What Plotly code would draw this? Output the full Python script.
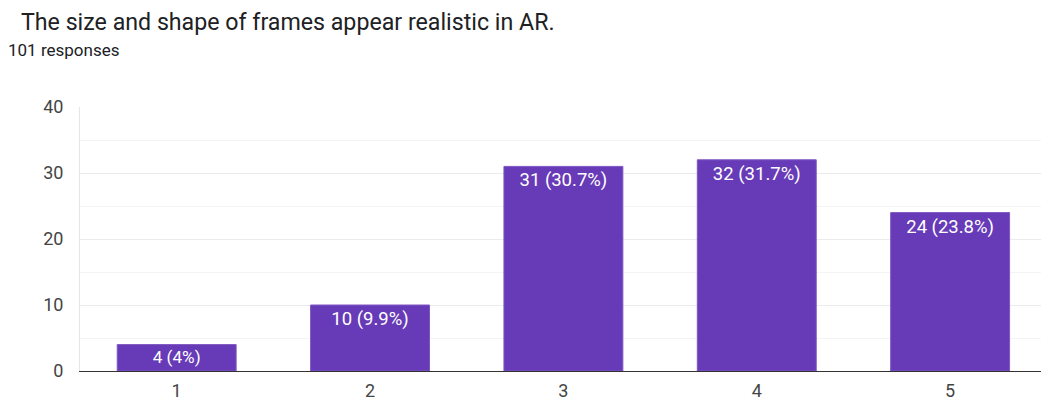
import plotly.graph_objects as go

# Likert responses (1-5) and counts
categories = ["1", "2", "3", "4", "5"]
counts = [4, 10, 31, 32, 24]
percents = ["4%", "9.9%", "30.7%", "31.7%", "23.8%"]
labels = [f"{c} ({p})" for c, p in zip(counts, percents)]

FONT = "Roboto, Arial, sans-serif"

fig = go.Figure(
    go.Bar(
        x=categories,
        y=counts,
        text=labels,
        textposition="inside",
        insidetextanchor="end",
        textangle=0,
        textfont=dict(family=FONT, size=18.5, color="white"),
        marker=dict(color="#673ab7", line=dict(color="#7e57c2", width=1)),
        width=0.615,
        hoverinfo="skip",
    )
)

fig.update_layout(
    width=1041,
    height=400,
    margin=dict(l=80, r=0, t=107, b=29),
    paper_bgcolor="white",
    plot_bgcolor="white",
    showlegend=False,
    font=dict(family=FONT, color="#444444"),
    uniformtext=dict(mode=False),
    title=dict(
        text="The size and shape of frames appear realistic in AR.",
        xref="container",
        yref="container",
        x=21 / 1041,
        xanchor="left",
        y=1 - 22 / 400,
        yanchor="middle",
        font=dict(family=FONT, size=23.2, color="#202124"),
    ),
    annotations=[
        dict(
            text="101 responses",
            xref="paper",
            yref="paper",
            x=0,
            y=1,
            xanchor="left",
            yanchor="middle",
            xshift=-74,
            yshift=57,
            showarrow=False,
            font=dict(family=FONT, size=17, color="#202124"),
        )
    ],
)

fig.update_xaxes(
    type="category",
    range=[-0.5, 4.47],
    showgrid=False,
    showline=True,
    linecolor="#333333",
    linewidth=1,
    ticks="",
    ticklabelstandoff=3,
    tickfont=dict(size=18, color="#444444"),
    fixedrange=True,
)

fig.update_yaxes(
    range=[0, 40],
    dtick=10,
    showgrid=True,
    gridcolor="#ebebeb",
    gridwidth=1,
    minor=dict(dtick=5, showgrid=True, gridcolor="#f4f4f4", gridwidth=1),
    showline=True,
    linecolor="#e6e6e6",
    linewidth=1,
    zeroline=False,
    ticks="",
    ticklabelstandoff=12,
    tickfont=dict(size=18, color="#444444"),
    fixedrange=True,
)

fig.write_html("out.html")
